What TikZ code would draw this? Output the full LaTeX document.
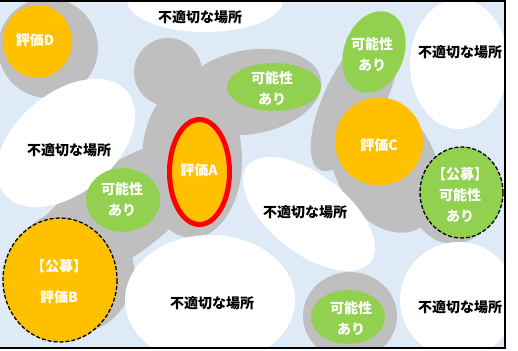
\documentclass[tikz,border=0pt]{standalone}
\usepackage{fontspec}
\newfontfamily\jp{Noto Sans CJK JP}
\definecolor{bgblue}{HTML}{DEEBF7}
\definecolor{blobgray}{HTML}{BFBFBF}
\definecolor{evalorange}{HTML}{FFC000}
\definecolor{okgreen}{HTML}{92D050}
\begin{document}
\begin{tikzpicture}[x=1pt, y=-1pt,
	lbl/.style={font=\jp\bfseries\fontsize{14}{21}\selectfont, text=white, align=center, inner sep=0pt},
	bad/.style={lbl, text=black},
	blob/.style={fill=blobgray},
	spot/.style={fill=white},
	eval/.style={fill=evalorange},
	ok/.style={fill=okgreen},
	koubo/.style={draw=black, line width=1.3pt, dash pattern=on 4pt off 2pt}]
	\useasboundingbox (0,0) rectangle (518,350);
	\fill[bgblue] (0,1) rectangle (505,348);
	\begin{scope}
		\clip (0,1) rectangle (505,348);
		% gray areas
		\fill[blob] (48,48) circle (50);
		\fill[blob] (168,72) circle (34);
		\fill[blob, rotate around={10:(250,92)}] (250,92) ellipse [x radius=72, y radius=42];
		\fill[blob] (192,160) ellipse [x radius=50, y radius=78];
		\fill[blob, rotate around={35:(115,215)}] (115,215) ellipse [x radius=115, y radius=45];
		\fill[blob] (120,200) ellipse [x radius=43, y radius=40];
		\fill[blob] (72,272) circle (62);
		\fill[blob, rotate around={64:(355,98)}] (355,98) ellipse [x radius=80, y radius=30];
		\fill[blob, rotate around={-62:(385,165)}] (385,165) ellipse [x radius=72, y radius=50];
		\fill[blob] (453,198) ellipse [x radius=42, y radius=46];
		\fill[blob] (350,316) ellipse [x radius=47, y radius=44];
		% unsuitable places
		\fill[spot] (205,0) ellipse [x radius=78, y radius=32];
		\fill[spot] (459,64) ellipse [x radius=49, y radius=65];
		\fill[spot, rotate around={40:(66,143)}] (66,143) ellipse [x radius=80, y radius=50];
		\fill[spot, rotate around={-38:(309,214)}] (309,214) ellipse [x radius=78, y radius=39];
		\fill[spot] (210,300) ellipse [x radius=85, y radius=65];
		\fill[spot] (458,300) circle (58);
		% candidates
		\fill[eval] (37.5,41.5) ellipse [x radius=34.5, y radius=36.5];
		\draw[eval, draw=red, line width=5pt] (199.5,172) ellipse [x radius=30, y radius=52.5];
		\fill[eval] (379,141.5) circle (44);
		\draw[eval, koubo] (60,280) ellipse [x radius=57, y radius=62];
		\fill[ok] (123,200) ellipse [x radius=37, y radius=32];
		\fill[ok] (274,87) ellipse [x radius=47, y radius=24];
		\fill[ok, rotate around={70:(374,52)}] (374,52) ellipse [x radius=42, y radius=30];
		\draw[ok, koubo] (461.5,192.5) ellipse [x radius=41.5, y radius=45.5];
		\fill[ok] (348,317) ellipse [x radius=37, y radius=27];
	\end{scope}
	\draw[line width=2pt] (0,1)--(505,1)--(505,348)--(0,348);
	\node[lbl] (evalD) at (35,40) {評価D};
	\node[lbl] (evalA) at (199,170) {評価A};
	\node[lbl] (evalC) at (379,145) {評価C};
	\node[lbl] (evalB) at (59,282) {【公募】\\[10pt]評価B};
	\node[lbl] (okL) at (122,199) {可能性\\あり};
	\node[lbl] (okT) at (272,88) {可能性\\あり};
	\node[lbl] (okR) at (372,54) {可能性\\あり};
	\node[lbl] (okK) at (460,195) {【公募】\\可能性\\あり};
	\node[lbl] (okB) at (351,318) {可能性\\あり};
	\foreach \n/\x/\y in {t/200/17, tr/460/52, l/69/150, m/305/212, b/212/303, br/460/307}{
		\node[bad] (bad\n) at (\x,\y) {不適切な場所};
	}
\end{tikzpicture}
\end{document}
